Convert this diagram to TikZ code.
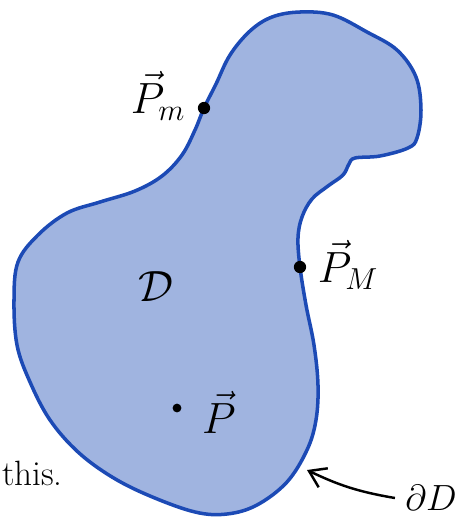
\documentclass[tikz,border=0pt]{standalone}
\usepackage{amsmath}
\usetikzlibrary{arrows.meta,calc}
\definecolor{RegionClr}{rgb}{0.627,0.706,0.878}
\definecolor{EdgeClr}{rgb}{0.11,0.29,0.71}

\begin{document}
\begin{tikzpicture}[x=0.02cm,y=-0.02cm,
  dot/.style={circle,fill=black,inner sep=0pt,minimum size=#1},
  lbl/.style={inner sep=0pt,font=\fontsize{23}{27}\selectfont}]
\useasboundingbox (0,0) rectangle (466,522);

% the region D and its boundary
\filldraw[fill=RegionClr,draw=EdgeClr,line width=2pt]
  plot[smooth cycle,tension=0.6] coordinates {
  (204,108) (216,84) (230,55) (250,31) (272,17) (300,12) (333,15)
  (367,32) (397,50) (416,77) (421,110) (417,138) (408,148) (380,156)
  (355,158) (349,164) (343,175) (328,186) (312,199) (302,217) (298,238)
  (300,267) (306,305) (314,345) (318,385) (316,420) (307,450)
  (287,482) (257,505) (227,514) (195,512) (150,496) (112,477)
  (78,452) (50,420) (30,382) (17,345) (14,300) (18,262) (38,235)
  (67,213) (100,202) (135,191) (162,176) (182,155) (195,130)};

% points
\node[dot=7pt] (Pm) at (204,108) {};
\node[dot=7pt] (PM) at (300,267) {};
\node[dot=5pt] (P) at (177,408) {};

% labels
\node[lbl] (lPm) at (158,96) {$\vec{P}_m$};
\node[lbl] (lPM) at (348,265) {$\vec{P}_M$};
\node[lbl,font=\fontsize{29}{33}\selectfont] (lD) at (156,287) {$\mathcal{D}$};
\node[lbl] (lP) at (219,412) {$\vec{P}$};
\node[lbl,font=\fontsize{22}{26}\selectfont] (ldD) at (431,498) {$\partial D$};
\node[lbl,anchor=base east,font=\fontsize{20}{24}\selectfont] (this) at (63,485) {this.};

% arrow to the boundary
\coordinate (bd) at (307,470);
\draw[-{Straight Barb[length=9pt,width=12pt]},line width=1.4pt]
  (ldD.west) ++(-10,0) to[bend left=8] (bd);
\end{tikzpicture}
\end{document}
